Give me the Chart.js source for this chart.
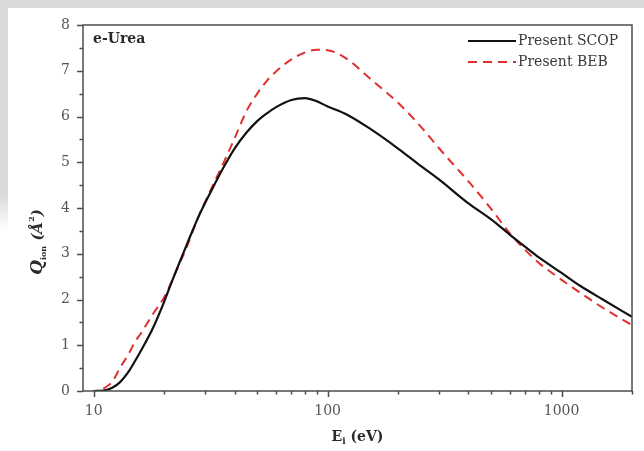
<!DOCTYPE html>
<html>
<head>
<meta charset="utf-8">
<script src="https://cdn.jsdelivr.net/npm/chart.js@4/dist/chart.umd.min.js"></script>
<style>
html, body { margin: 0; padding: 0; background: #fff; }
#wrap { position: relative; width: 644px; height: 451px; }
#band { position: absolute; left: 0; top: 0; width: 644px; height: 8px; background: #dadada; }
#side { position: absolute; left: 0; top: 0; width: 8px; height: 230px; background: linear-gradient(#dadada, #dadada 85%, #fff); }
canvas { position: absolute; left: 0; top: 0; }
</style>
</head>
<body>
<div id="wrap">
  <div id="band"></div>
  <div id="side"></div>
  <canvas id="chart" width="644" height="451"></canvas>
</div>
<script>
// incident energy (eV) and cross sections (Å²)
const energies   = [10, 11, 12, 13, 14, 15, 16, 18, 20, 22, 25, 28, 32, 36, 40, 45, 50, 55, 60, 70, 80, 90, 100, 120, 150, 200, 250, 300, 400, 500, 600, 700, 800, 1000, 1200, 1500, 2000];
const scopValues = [0.0, 0.01, 0.07, 0.2, 0.4, 0.65, 0.9, 1.4, 1.95, 2.5, 3.2, 3.8, 4.4, 4.9, 5.3, 5.65, 5.9, 6.07, 6.2, 6.36, 6.4, 6.33, 6.22, 6.05, 5.75, 5.3, 4.92, 4.62, 4.1, 3.75, 3.42, 3.15, 2.92, 2.58, 2.3, 2.0, 1.62];
const bebValues  = [null, 0.05, 0.2, 0.52, 0.78, 1.07, 1.28, 1.7, 2.05, 2.5, 3.15, 3.8, 4.45, 5.0, 5.52, 6.12, 6.5, 6.78, 6.98, 7.25, 7.4, 7.46, 7.45, 7.27, 6.85, 6.3, 5.78, 5.3, 4.58, 3.98, 3.45, 3.08, 2.8, 2.43, 2.15, 1.82, 1.44];

const seriesLabels = ['Present SCOP', 'Present BEB'];
const xTickLabels = [10, 100, 1000];
const panelLabel = 'e-Urea';

const axisColor = '#4d4d4d';
const serif = '"DejaVu Serif", "Liberation Serif", serif';

function points(vals) {
    return energies.map((e, i) => ({ x: e, y: vals[i] }));
}

// frame, outward ticks, titles, legend
const decorations = {
    id: 'decorations',
    afterDraw(chart) {
        const { ctx, chartArea: a, scales: { x, y } } = chart;
        ctx.save();

        ctx.strokeStyle = axisColor;
        ctx.lineWidth = 1.5;
        ctx.strokeRect(a.left, a.top, a.right - a.left, a.bottom - a.top);

        ctx.beginPath();
        for (let v = y.min; v <= y.max; v += 0.5) {
            const py = Math.round(y.getPixelForValue(v)) + 0.5;
            const len = Number.isInteger(v) ? 6 : 3.5;
            ctx.moveTo(a.left - len, py);
            ctx.lineTo(a.left, py);
        }
        for (let d = 10; d <= 1000; d *= 10) {
            for (let m = 1; m <= 9; m++) {
                const v = d * m;
                if (v < x.min || v > x.max) continue;
                const px = Math.round(x.getPixelForValue(v)) + 0.5;
                const len = m === 1 ? 6 : 3.5;
                ctx.moveTo(px, a.bottom);
                ctx.lineTo(px, a.bottom + len);
            }
        }
        ctx.stroke();

        ctx.fillStyle = '#2a2a2a';
        ctx.textBaseline = 'middle';

        // panel label
        ctx.font = 'bold 14px ' + serif;
        ctx.textAlign = 'left';
        ctx.fillText(panelLabel, a.left + 10, a.top + 14);

        // x title: E_i (eV)
        const cx = (a.left + a.right) / 2, ty = 437;
        ctx.font = 'bold 14px ' + serif;
        const wE = ctx.measureText('E').width;
        const wRest = ctx.measureText(' (eV)').width;
        ctx.font = 'bold 9px ' + serif;
        const wi = ctx.measureText('i').width;
        let sx = cx - (wE + wi + wRest) / 2;
        ctx.font = 'bold 14px ' + serif;
        ctx.fillText('E', sx, ty);
        ctx.font = 'bold 9px ' + serif;
        ctx.fillText('i', sx + wE, ty + 5);
        ctx.font = 'bold 14px ' + serif;
        ctx.fillText(' (eV)', sx + wE + wi, ty);

        // y title: Q_ion (Å²)
        ctx.save();
        ctx.translate(38, 242);
        ctx.rotate(-Math.PI / 2);
        ctx.font = 'italic bold 17px ' + serif;
        const wQ = ctx.measureText('Q').width;
        ctx.font = 'bold 8px ' + serif;
        const wion = ctx.measureText('ion').width;
        ctx.font = 'italic bold 15px ' + serif;
        const wA = ctx.measureText(' (Å').width;
        ctx.font = 'bold 8px ' + serif;
        const w2 = ctx.measureText('2').width;
        ctx.font = 'italic bold 15px ' + serif;
        const wp = ctx.measureText(')').width;
        let qx = -(wQ + wion + wA + w2 + wp) / 2;
        ctx.font = 'italic bold 17px ' + serif;
        ctx.fillText('Q', qx, 0); qx += wQ;
        ctx.font = 'bold 8px ' + serif;
        ctx.fillText('ion', qx, 6); qx += wion;
        ctx.font = 'italic bold 15px ' + serif;
        ctx.fillText(' (Å', qx, 0); qx += wA;
        ctx.font = 'bold 8px ' + serif;
        ctx.fillText('2', qx, -6); qx += w2;
        ctx.font = 'italic bold 15px ' + serif;
        ctx.fillText(')', qx, 0);
        ctx.restore();

        // legend
        ctx.font = '14px ' + serif;
        ctx.fillStyle = '#3a3a3a';
        chart.data.datasets.forEach((ds, i) => {
            const ly = a.top + 16 + i * 21;
            ctx.beginPath();
            ctx.strokeStyle = ds.borderColor;
            ctx.lineWidth = ds.borderWidth;
            ctx.setLineDash(ds.borderDash || []);
            ctx.moveTo(a.right - 164, ly);
            ctx.lineTo(a.right - 116, ly);
            ctx.stroke();
            ctx.setLineDash([]);
            ctx.fillText(ds.label, a.right - 114, ly);
        });

        ctx.restore();
    }
};

new Chart(document.getElementById('chart'), {
    type: 'line',
    data: {
        datasets: [
            {
                label: seriesLabels[0],
                data: points(scopValues),
                borderColor: '#111111',
                borderWidth: 2.2,
                pointRadius: 0,
                fill: false,
                cubicInterpolationMode: 'monotone'
            },
            {
                label: seriesLabels[1],
                data: points(bebValues),
                borderColor: '#e0302f',
                borderWidth: 2,
                borderDash: [9, 6],
                pointRadius: 0,
                fill: false,
                cubicInterpolationMode: 'monotone'
            }
        ]
    },
    options: {
        responsive: false,
        animation: false,
        layout: { padding: { top: 25, right: 12, bottom: 0, left: 0 } },
        plugins: {
            legend: { display: false },
            tooltip: { enabled: false },
            title: { display: false }
        },
        scales: {
            x: {
                type: 'logarithmic',
                min: 9,
                max: 2000,
                grid: { display: false, drawTicks: false },
                border: { display: false },
                afterFit: function (scale) { scale.height = 60; },
                ticks: {
                    autoSkip: false,
                    maxRotation: 0,
                    padding: 12,
                    color: '#555',
                    font: { family: serif, size: 14 },
                    callback: function (value) {
                        const hit = xTickLabels.find(t => Math.abs(value - t) < 1e-6 * t);
                        return hit ? String(hit) : '';
                    }
                }
            },
            y: {
                min: 0,
                max: 8,
                grid: { display: false, drawTicks: false },
                border: { display: false },
                afterFit: function (scale) { scale.width = 83; },
                ticks: {
                    stepSize: 1,
                    padding: 13,
                    color: '#555',
                    font: { family: serif, size: 14 }
                }
            }
        }
    },
    plugins: [decorations]
});
</script>
</body>
</html>
